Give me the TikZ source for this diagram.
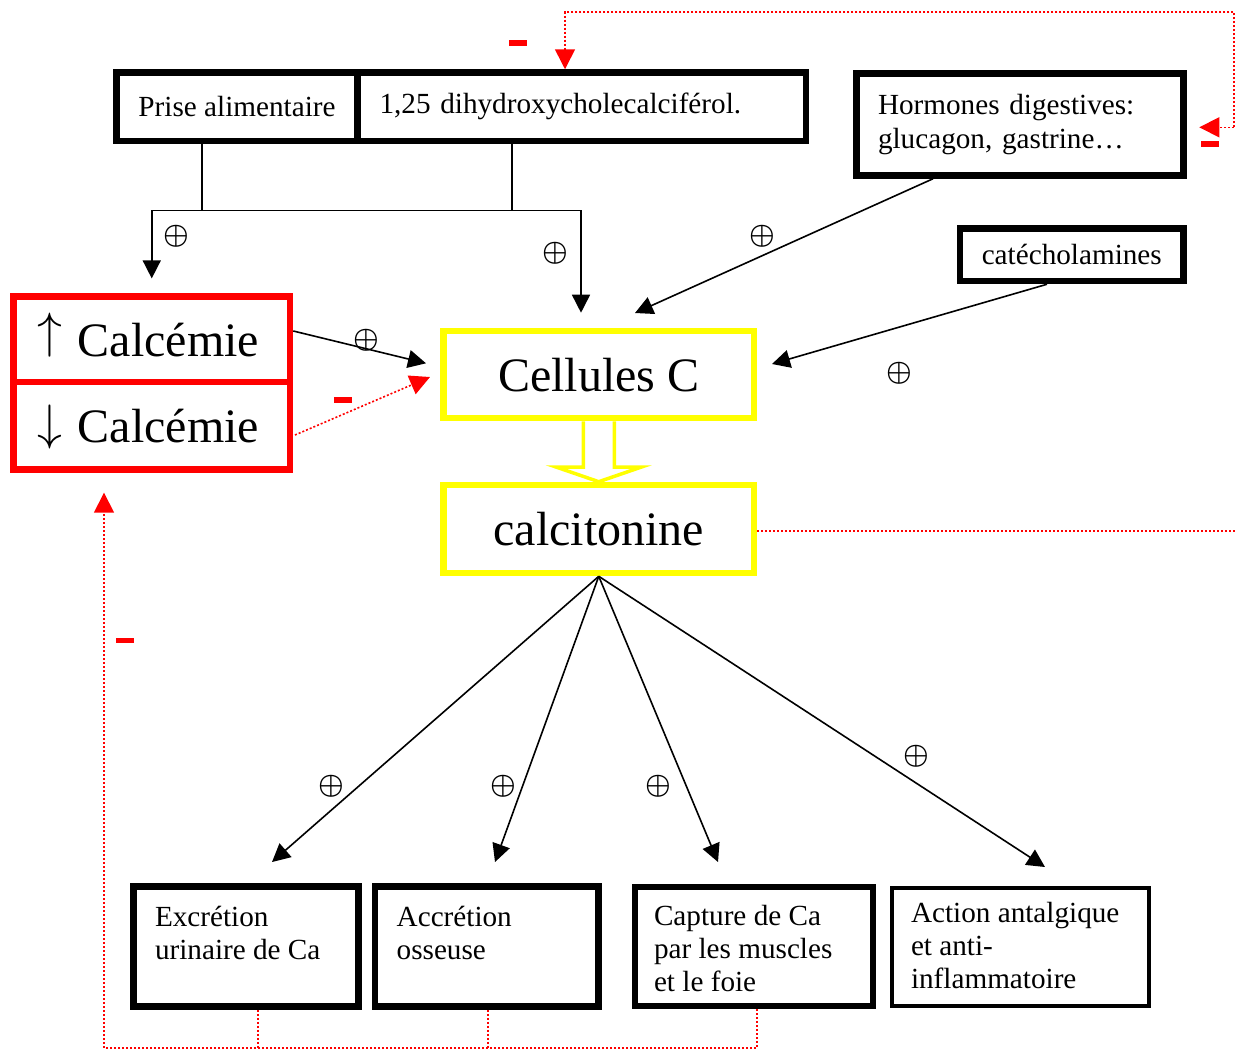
\documentclass[tikz,border=0pt]{standalone}
\usepackage{fontspec}
\setmainfont{Liberation Serif}
\usetikzlibrary{arrows.meta,calc}
\definecolor{fbred}{RGB}{255,0,0}
\definecolor{cyel}{RGB}{255,255,0}
\newcommand\smallfnt{\fontsize{14.6}{16.5}\selectfont}
\newcommand\bigfnt{\fontsize{24}{28}\selectfont}
\newcommand\btxt[4]{\parbox[c][#2][t]{#1}{\raggedright\rule{0pt}{#3}#4}}
\begin{document}
\begin{tikzpicture}[x=0.5pt,y=-0.5pt,
  box/.style={draw=black, line width=3.25pt, inner sep=0pt, font=\smallfnt},
  rbox/.style={draw=fbred, line width=3.3pt, inner sep=0pt, font=\bigfnt, text depth=0pt,
     text height=17pt, text width=114.75pt, inner xsep=11.75pt, align=left},
  ybox/.style={draw=cyel, line width=3.3pt, inner sep=0pt, font=\bigfnt, text depth=0pt,
     minimum width=155.25pt},
  blk/.style={draw=black, line width=0.8pt},
  arr/.style={blk, -{Triangle[length=9pt,width=9pt]}},
  fb/.style={draw=fbred, line width=0.8pt, dash pattern=on 1pt off 1pt},
  fbarr/.style={fb, -{Triangle[length=10pt,width=10pt]}},
  hollow/.style={draw=cyel, line width=1.75pt, fill=white, line join=miter},
  plus/.style={font=\fontsize{15}{15}\selectfont\boldmath, inner sep=0pt},
  minus/.style={fill=fbred, inner sep=0pt, minimum width=9pt, minimum height=2.75pt}
]
\useasboundingbox (0,0) rectangle (1235,1050);

% top boxes
\node[box, minimum width=120.5pt, minimum height=34.25pt] (prise) at (237,106.75) {Prise alimentaire};
\node[box, minimum height=34.25pt, text width=202.25pt, inner xsep=11pt, align=left] (dih) at (581.75,106.75) {1,25 dihydroxycholecalciférol.};
\node[box, minimum height=51pt, text width=142pt, inner xsep=10.75pt, align=left, font=\fontsize{14.6}{17}\selectfont] (horm) at (1020,124.5) {Hormones digestives:\\ glucagon, gastrine…};
\node[box, minimum width=111.75pt, minimum height=26.25pt, text depth=0pt] (cat) at (1071.75,254.75) {catécholamines};

% calcemia boxes
\node[rbox, minimum height=42.65pt] (up) at (151.75,339.35) {\raisebox{0.19em}{$\uparrow$} Calcémie};
\node[rbox, minimum height=43.75pt] (dn) at (151.75,425.75) {\raisebox{0.07em}{$\downarrow$} Calcémie};

% yellow boxes
\node[ybox, minimum height=43.5pt] (cc) at (598.75,374.5) {Cellules C};
\node[ybox, minimum height=44pt] (calc) at (598.75,529) {calcitonine};

% bottom boxes
\node[box, inner xsep=10.75pt] (excr) at (246,946.5) {\btxt{91pt}{60pt}{19.75pt}{Excrétion\\ urinaire de Ca}};
\node[box, inner xsep=10.85pt] (accr) at (486.65,946.5) {\btxt{89.95pt}{60pt}{19.75pt}{Accrétion\\ osseuse}};
\node[box, inner xsep=9.5pt] (capt) at (754,946.5) {\btxt{100pt}{59.5pt}{19pt}{Capture de Ca\\ par les muscles\\ et le foie}};
\node[box, line width=1.7pt, inner xsep=9.5pt] (act) at (1020.5,947) {\btxt{109.5pt}{59pt}{17pt}{Action antalgique\\ et anti-\\ inflammatoire}};

% top connectors
\coordinate (hL) at (151.75,210.3);
\coordinate (hR) at (581,210.3);
\draw[blk] ($(prise.south)+(-35,0)$) |- (hL);
\draw[blk] ($(dih.south)+(-69.75,0)$) |- (hR);
\draw[blk] (hL) -- (hR);
\draw[arr] (hL) -- ($(up.north)+(0,-15)$);
\draw[arr] (hR) -- ($(cc.north)+(-17.75,-15)$);
\draw[arr] ($(horm.south)+(-87,0)$) -- ($(cc.north)+(36.25,-14.7)$);
\draw[arr] ($(cat.south)+(-24.75,0)$) -- ($(cc.east)+(14.7,-10.5)$);
\draw[arr] ($(up.east)+(0,-8.35)$) -- ($(cc.west)+(-14.2,-11.2)$);
\draw[fbarr] ($(dn.east)+(1.7,9.25)$) -- ($(cc.west)+(-10.2,2.5)$);

% hollow yellow arrow
\draw[hollow] ($(cc.south)+(-15.5,0)$) -- ($(cc.south)+(-15.5,45.7)$) -- ($(cc.south)+(-42.75,45.7)$)
  -- (calc.north) -- ($(cc.south)+(42.75,45.7)$) -- ($(cc.south)+(15.5,45.7)$) -- ($(cc.south)+(15.5,0)$);

% calcitonine effects
\draw[arr] (calc.south) -- ($(excr.north)+(26,-21.25)$);
\draw[arr] (calc.south) -- ($(accr.north)+(8.35,-21.25)$);
\draw[arr] (calc.south) -- ($(capt.north)+(-36,-21.75)$);
\draw[arr] (calc.south) -- ($(act.north)+(24.5,-19.3)$);

% feedback (red dotted)
\coordinate (fbE) at (1235,531);
\draw[fb] ($(calc.east)+(0,2)$) -- (fbE);
\coordinate (fbC) at (1234,127.3);
\coordinate (fbT) at (1234,12);
\draw[fbarr] (fbC) -- (fbT) -| ($(dih.north)+(-16.75,0)$);
\draw[fbarr] (fbC) -- ($(horm.east)+(12.55,2.8)$);
\coordinate (fbB) at (104,1048);
\draw[fbarr] ($(capt.south)+(3,0)$) |- (fbB) -- ($(dn.south)+(-47.75,19.9)$);
\draw[fb] ($(excr.south)+(12,0)$) -- ++(0,38.25);
\draw[fb] ($(accr.south)+(1.35,0)$) -- ++(0,38.25);

% signs
\node[plus] (p1) at (176.7,236.7) {$\oplus$};
\node[plus] (p2) at (555,253.3) {$\oplus$};
\node[plus] (p3) at (762,236) {$\oplus$};
\node[plus] (p4) at (899,373) {$\oplus$};
\node[plus] (p5) at (366,340) {$\oplus$};
\node[plus] (p6) at (331,786) {$\oplus$};
\node[plus] (p7) at (503,786) {$\oplus$};
\node[plus] (p8) at (658,786) {$\oplus$};
\node[plus] (p9) at (916,756) {$\oplus$};
\node[minus, minimum height=3pt] (m1) at (518,43) {};
\node[minus] (m2) at (1209.5,144) {};
\node[minus, minimum height=3pt] (m3) at (343,400) {};
\node[minus] (m4) at (125,640.7) {};
\end{tikzpicture}
\end{document}
